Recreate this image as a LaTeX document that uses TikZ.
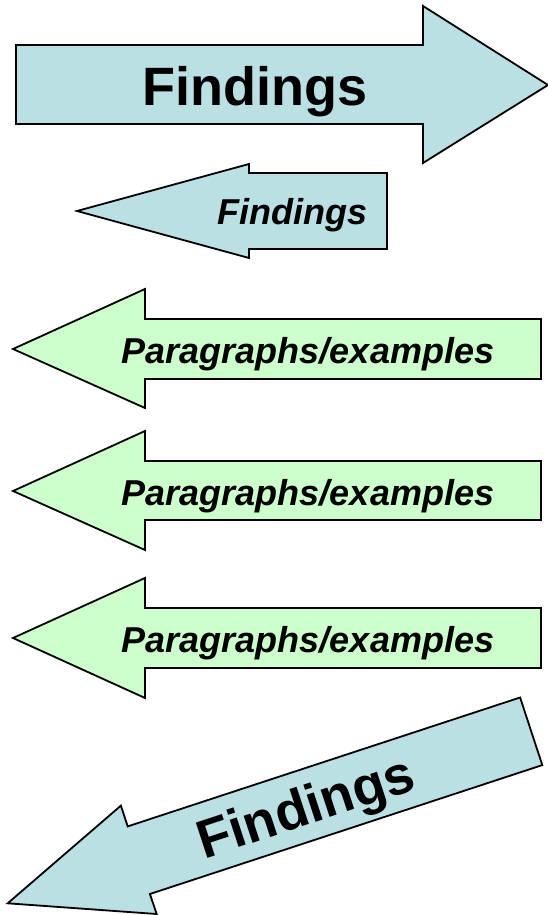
\documentclass[tikz,border=0pt]{standalone}
\usepackage{fontspec}
\setmainfont{Liberation Sans}
\definecolor{arrowblue}{RGB}{187,224,227}
\definecolor{arrowgreen}{RGB}{204,255,204}
\begin{document}
\begin{tikzpicture}[x=1pt,y=-1pt,
  arrowshape/.style={draw=black,line width=1.8pt,line join=miter},
  bluearrow/.style={arrowshape,fill=arrowblue},
  greenarrow/.style={arrowshape,fill=arrowgreen},
  bigtext/.style={font=\fontsize{54}{60}\selectfont\bfseries,inner sep=0pt,anchor=base},
  smalltext/.style={font=\fontsize{36}{40}\selectfont\bfseries\itshape,inner sep=0pt,anchor=base}]
\useasboundingbox (0,0) rectangle (548,915);
% arrow 1: large right arrow
\draw[bluearrow] (16,45) -- (423,45) -- (423,6) -- (548,85) -- (423,163) -- (423,124) -- (16,124) -- cycle;
\node[bigtext] (f1) at (255,106) {Findings};
% arrow 2: small left arrow
\draw[bluearrow] (387,173) -- (249,173) -- (249,164) -- (77,211) -- (249,258) -- (249,249) -- (387,249) -- cycle;
\node[smalltext] (f2) at (292,224) {Findings};
% arrows 3-5: green left arrows
\draw[greenarrow] (541,319) -- (145,319) -- (145,289) -- (13,349) -- (145,408) -- (145,379) -- (541,379) -- cycle;
\node[smalltext] (p1) at (308,363) {Paragraphs/examples};
\draw[greenarrow] (541,461) -- (145,461) -- (145,431) -- (13,491) -- (145,550) -- (145,520) -- (541,520) -- cycle;
\node[smalltext] (p2) at (308,505) {Paragraphs/examples};
\draw[greenarrow] (541,608) -- (145,608) -- (145,578) -- (13,638) -- (145,698) -- (145,668) -- (541,668) -- cycle;
\node[smalltext] (p3) at (308,652) {Paragraphs/examples};
% arrow 6: diagonal arrow
\draw[bluearrow] (520.1,697.5) -- (127.7,826.4) -- (120.9,805.6) -- (7.7,903.3) -- (156.7,914.0) -- (149.9,894.0) -- (542.3,765.1) -- cycle;
\node[bigtext,rotate=18.2] (f3) at (311,824) {Findings};
\end{tikzpicture}
\end{document}
